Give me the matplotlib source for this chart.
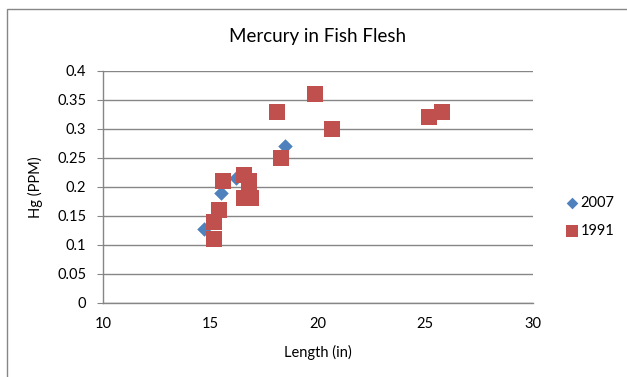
import matplotlib
matplotlib.use("Agg")
import matplotlib.pyplot as plt
from matplotlib.patches import Rectangle
from matplotlib.ticker import FuncFormatter

# Fish length (in) and mercury concentration (PPM)
length_2007 = [14.7, 15.48, 16.19, 18.49]
hg_2007 = [0.128, 0.19, 0.216, 0.27]

length_1991 = [15.18, 15.18, 15.39, 15.59, 16.58, 16.78, 16.78, 16.58, 16.89,
               18.09, 18.29, 19.87, 20.66, 25.19, 25.77]
hg_1991 = [0.11, 0.14, 0.16, 0.21, 0.22, 0.21, 0.20, 0.18, 0.18,
           0.33, 0.25, 0.36, 0.30, 0.32, 0.33]

x_ticks = [10, 15, 20, 25, 30]
y_ticks = [0, 0.05, 0.1, 0.15, 0.2, 0.25, 0.3, 0.35, 0.4]

BLUE = "#4F81BD"
RED = "#C0504D"
GRID = "#868686"

plt.rcParams["font.family"] = ["Lato", "DejaVu Sans"]

W, H = 627, 377
fig = plt.figure(figsize=(W / 100, H / 100), dpi=100)
fig.patch.set_facecolor("white")

# chart frame
fig.patches.append(Rectangle((7 / W, -0.1), 1.2, 1 - 9 / H + 0.1,
                             transform=fig.transFigure, fill=False,
                             edgecolor=GRID, linewidth=1.0))

ax = fig.add_axes([103 / W, 1 - 302.7 / H, (532.7 - 103) / W, (302.7 - 71) / H])
ax.set_xlim(x_ticks[0], x_ticks[-1])
ax.set_ylim(y_ticks[0], y_ticks[-1])
ax.set_xticks(x_ticks)
ax.set_yticks(y_ticks)
ax.yaxis.set_major_formatter(FuncFormatter(lambda v, p: f"{v:g}"))

ax.grid(axis="y", color=GRID, linewidth=1.0)
ax.set_axisbelow(True)
for side in ("top", "right"):
    ax.spines[side].set_visible(False)
for side in ("left", "bottom"):
    ax.spines[side].set_color(GRID)
    ax.spines[side].set_linewidth(1.0)
ax.tick_params(axis="y", length=4, color=GRID, labelsize=10.5, pad=8)
ax.tick_params(axis="x", length=0, labelsize=10.5, pad=10)

ax.scatter(length_2007, hg_2007, marker="D", s=55, color=BLUE,
           linewidths=0, label="2007", zorder=3)
ax.scatter(length_1991, hg_1991, marker="s", s=125, color=RED,
           linewidths=0, label="1991", zorder=3)

ax.set_title("Mercury in Fish Flesh", fontsize=13.5, pad=21)
ax.set_xlabel("Length (in)", fontsize=10.5, labelpad=10)
ax.set_ylabel("Hg (PPM)", fontsize=10.5, labelpad=10)

leg = ax.legend(loc="center left", bbox_to_anchor=(1.045, 0.37), frameon=False,
                fontsize=10.5, handletextpad=0.05, labelspacing=0.95,
                handlelength=1.0, markerscale=0.8)

fig.savefig("out.png", dpi=100)
